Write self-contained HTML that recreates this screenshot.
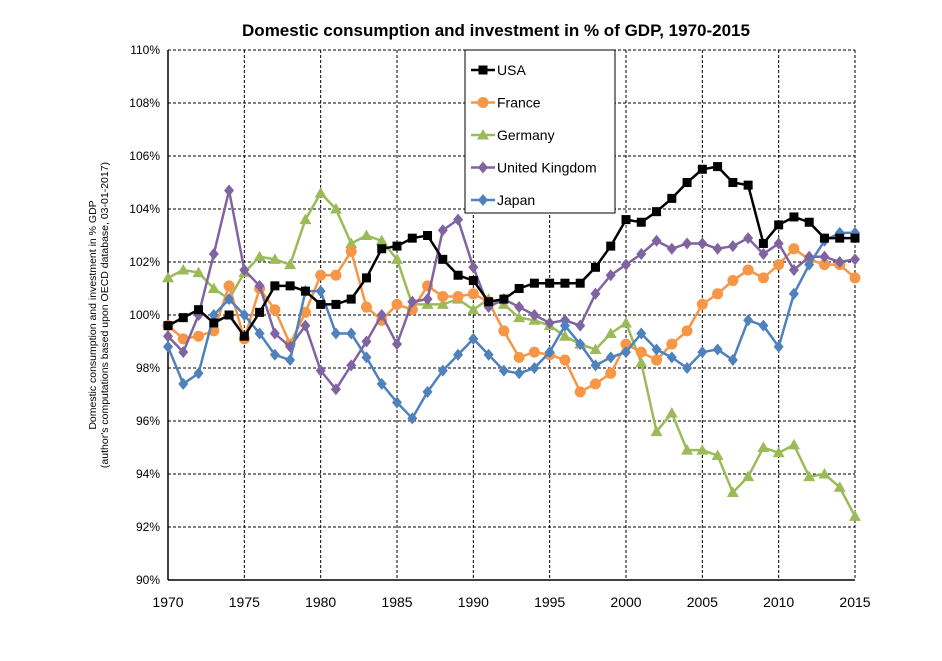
<!DOCTYPE html>
<html><head><meta charset="utf-8"><style>
body{margin:0;background:#fff;width:942px;height:656px;overflow:hidden;font-family:"Liberation Sans",sans-serif}
</style></head><body>
<svg id="chart" width="942" height="656" xmlns="http://www.w3.org/2000/svg" font-family="Liberation Sans, sans-serif">
<text x="496" y="36" text-anchor="middle" font-size="17" font-weight="bold">Domestic consumption and investment in % of GDP, 1970-2015</text>
<g transform="translate(96,315) rotate(-90)" font-size="10.5" text-anchor="middle">
<text y="0">Domestic consumption and investment in % GDP</text>
<text y="12">(author's computations based upon OECD database, 03-01-2017)</text>
</g>
<g id="grid"></g><g id="series"></g><g id="legend"></g>
</svg>
<script>
const years=[];for(let y=1970;y<=2015;y++)years.push(y);
const usa=[99.6,99.9,100.2,99.7,100.0,99.2,100.1,101.1,101.1,100.9,100.4,100.4,100.6,101.4,102.5,102.6,102.9,103.0,102.1,101.5,101.3,100.5,100.6,101.0,101.2,101.2,101.2,101.2,101.8,102.6,103.6,103.5,103.9,104.4,105.0,105.5,105.6,105.0,104.9,102.7,103.4,103.7,103.5,102.9,102.9,102.9];
const france=[99.6,99.1,99.2,99.4,101.1,99.1,101.0,100.2,98.9,100.1,101.5,101.5,102.4,100.3,99.8,100.4,100.2,101.1,100.7,100.7,100.8,100.5,99.4,98.4,98.6,98.5,98.3,97.1,97.4,97.8,98.9,98.6,98.3,98.9,99.4,100.4,100.8,101.3,101.7,101.4,101.9,102.5,102.1,101.9,101.9,101.4];
const germany=[101.4,101.7,101.6,101.0,100.6,101.6,102.2,102.1,101.9,103.6,104.6,104.0,102.7,103.0,102.8,102.1,100.4,100.4,100.4,100.6,100.2,100.6,100.4,99.9,99.8,99.6,99.2,98.9,98.7,99.3,99.7,98.2,95.6,96.3,94.9,94.9,94.7,93.3,93.9,95.0,94.8,95.1,93.9,94.0,93.5,92.4];
const uk=[99.2,98.6,100.0,102.3,104.7,101.7,101.1,99.3,98.8,99.6,97.9,97.2,98.1,99.0,100.0,98.9,100.5,100.6,103.2,103.6,101.8,100.3,100.6,100.3,100.0,99.7,99.8,99.6,100.8,101.5,101.9,102.3,102.8,102.5,102.7,102.7,102.5,102.6,102.9,102.3,102.7,101.7,102.2,102.2,102.0,102.1];
const japan=[98.8,97.4,97.8,100.0,100.6,100.0,99.3,98.5,98.3,100.9,100.9,99.3,99.3,98.4,97.4,96.7,96.1,97.1,97.9,98.5,99.1,98.5,97.9,97.8,98.0,98.6,99.6,98.9,98.1,98.4,98.6,99.3,98.7,98.4,98.0,98.6,98.7,98.3,99.8,99.6,98.8,100.8,101.9,102.8,103.1,103.1];
const yTicks=[90,92,94,96,98,100,102,104,106,108,110];
const xTicks=[1970,1975,1980,1985,1990,1995,2000,2005,2010,2015];
const NS="http://www.w3.org/2000/svg";
const X0=168,X1=855,Y0=580,Y1=50;
const xs=v=>X0+(v-1970)/45*(X1-X0);
const ys=v=>Y0-(v-90)/20*(Y0-Y1);
function mk(tag,at,parent){const e=document.createElementNS(NS,tag);for(const k in at)e.setAttribute(k,at[k]);parent.appendChild(e);return e;}
const grid=document.getElementById('grid');
yTicks.forEach(t=>{
 const l=mk('line',{x1:X0,x2:X1,y1:ys(t),y2:ys(t),stroke:'#000','stroke-width':1,'stroke-dasharray':'3,2'},grid);
 
 
 const tx=mk('text',{x:X0-8,y:ys(t)+4,'text-anchor':'end','font-size':12},grid);
 tx.textContent=t+'%';
 
 
});
xTicks.forEach(t=>{
 const l=mk('line',{x1:xs(t),x2:xs(t),y1:Y1,y2:Y0,stroke:'#000','stroke-width':1,'stroke-dasharray':'3,2'},grid);
 
 
 const tx=mk('text',{x:xs(t),y:Y0+27,'text-anchor':'middle','font-size':14},grid);
 tx.textContent=t;
 
 
});
const ax=mk('line',{x1:X0,x2:X0,y1:Y1,y2:Y0,stroke:'#000','stroke-width':1.5},grid);


const ax2=mk('line',{x1:X0,x2:X1,y1:Y0,y2:Y0,stroke:'#000','stroke-width':1.5},grid);


function marker(shape,x,y,c,p){
 if(shape==='sq')return mk('rect',{x:x-4.5,y:y-4.5,width:9,height:9,fill:c},p);
 if(shape==='ci')return mk('circle',{cx:x,cy:y,r:5.5,fill:c},p);
 if(shape==='tr')return mk('polygon',{points:`${x},${y-6} ${x-6},${y+4.5} ${x+6},${y+4.5}`,fill:c},p);
 return mk('polygon',{points:`${x},${y-6} ${x+5},${y} ${x},${y+6} ${x-5},${y}`,fill:c},p);
}
const seriesDefs=[['USA',usa,'#000','sq'],['France',france,'#f79646','ci'],['Germany',germany,'#9bbb59','tr'],['United Kingdom',uk,'#8064a2','di'],['Japan',japan,'#4f81bd','di']];
const sg=document.getElementById('series');
const order=[2,1,3,4,0];
order.forEach(i=>{
 const [name,vals,c,sh]=seriesDefs[i];
 const g=mk('g',{},sg);
 
 
 const pl=mk('polyline',{points:vals.map((v,k)=>xs(years[k])+','+ys(v)).join(' '),fill:'none',stroke:c,'stroke-width':2.5},g);
 
 
 vals.forEach((v,k)=>{const m=marker(sh,xs(years[k]),ys(v),c,g);
  
  });
});
const lg=document.getElementById('legend');


mk('rect',{x:465,y:50,width:150,height:163,fill:'#fff',stroke:'#000','stroke-width':1},lg);
seriesDefs.forEach((s,i)=>{
 const y=70+i*32.5;
 const g=mk('g',{},lg);
 
 
 mk('line',{x1:471,x2:495,y1:y,y2:y,stroke:s[2],'stroke-width':2.5},g);
 marker(s[3],483,y,s[2],g);
 const t=mk('text',{x:497,y:y+5,'font-size':14},g);t.textContent=s[0];
});
</script>
</body></html>
